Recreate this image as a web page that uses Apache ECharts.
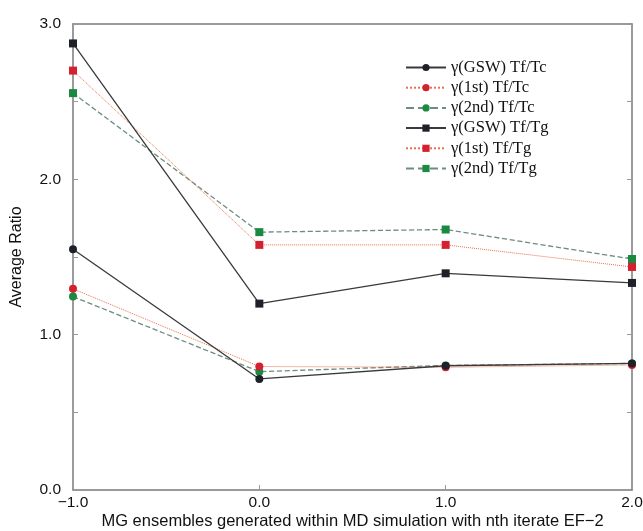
<!DOCTYPE html>
<html>
<head>
<meta charset="utf-8">
<script src="https://cdn.jsdelivr.net/npm/echarts@6/dist/echarts.min.js"></script>
<style>html,body{margin:0;padding:0;background:#fff;}#c{width:643px;height:531px;}</style>
</head>
<body>
<div id="c"></div>
<script>
const xValues = [-1, 0, 1, 2];
const gswTc = [1.55, 0.715, 0.80, 0.815];
const firstTc = [1.295, 0.795, 0.79, 0.805];
const secondTc = [1.245, 0.762, 0.802, 0.815];
const gswTg = [2.875, 1.20, 1.395, 1.333];
const firstTg = [2.70, 1.578, 1.578, 1.436];
const secondTg = [2.555, 1.66, 1.677, 1.487];
const seriesNames = ['γ(GSW) Tf/Tc', 'γ(1st) Tf/Tc', 'γ(2nd) Tf/Tc', 'γ(GSW) Tf/Tg', 'γ(1st) Tf/Tg', 'γ(2nd) Tf/Tg'];
const xTitle = 'MG ensembles generated within MD simulation with nth iterate EF\u22122';
const yTitle = 'Average Ratio';

const pair = arr => arr.map((v, i) => [xValues[i], v]);
const styles = [
  {line: '#3a3a3a', mark: '#1e2228', type: 'solid', sym: 'circle', w: 1.3},
  {line: '#e8704a', mark: '#d42030', type: 'dotted', sym: 'circle', w: 1},
  {line: '#6c8c84', mark: '#1a8a40', type: 'dashed', sym: 'circle', w: 1.3},
  {line: '#3a3a3a', mark: '#1e2228', type: 'solid', sym: 'rect', w: 1.3},
  {line: '#e8704a', mark: '#d42030', type: 'dotted', sym: 'rect', w: 1},
  {line: '#6c8c84', mark: '#1a8a40', type: 'dashed', sym: 'rect', w: 1.3}
];
const datasets = [gswTc, firstTc, secondTc, gswTg, firstTg, secondTg];

const frameLine = {show: true, onZero: false, lineStyle: {color: '#7a7a7a', width: 1.5}};
const chart = echarts.init(document.getElementById('c'), null, {renderer: 'canvas'});
chart.setOption({
  animation: false,
  backgroundColor: '#fff',
  grid: {left: 73, top: 24, right: 11, bottom: 41, containLabel: false, outerBoundsMode: 'none'},
  legend: {
    orient: 'vertical', left: 405, top: 59, padding: 0,
    itemWidth: 40, itemHeight: 9, itemGap: 3.2,
    textStyle: {fontFamily: 'Liberation Serif', fontSize: 16.5, color: '#111', lineHeight: 17},
    data: seriesNames
  },
  xAxis: [{
    type: 'value', min: -1, max: 2, interval: 1,
    name: xTitle, nameLocation: 'middle', nameGap: 23, nameMoveOverlap: false,
    nameTextStyle: {fontFamily: 'Liberation Sans', fontSize: 16.5, color: '#111'},
    axisLine: frameLine,
    axisTick: {inside: true, length: 5, lineStyle: {color: '#999'}},
    axisLabel: {fontFamily: 'Liberation Sans', fontSize: 15.5, color: '#111', margin: 5,
      formatter: v => (v < 0 ? '\u2212' + Math.abs(v).toFixed(1) : v.toFixed(1))},
    splitLine: {show: false}
  }, {
    type: 'value', min: -1, max: 2, interval: 1, position: 'top',
    axisLine: frameLine,
    axisTick: {show: false}, axisLabel: {show: false}, splitLine: {show: false}
  }],
  yAxis: [{
    type: 'value', min: 0, max: 3, interval: 0.5,
    name: yTitle, nameLocation: 'middle', nameGap: 48, nameMoveOverlap: false,
    nameTextStyle: {fontFamily: 'Liberation Sans', fontSize: 16, color: '#111'},
    axisLine: frameLine,
    axisTick: {inside: true, length: 5, lineStyle: {color: '#999'}},
    axisLabel: {fontFamily: 'Liberation Sans', fontSize: 15.5, color: '#111', margin: 12,
      padding: [0, 0, 6, 0],
      formatter: v => (Math.abs(v - Math.round(v)) < 1e-9 ? v.toFixed(1) : '')},
    splitLine: {show: false}
  }, {
    type: 'value', min: 0, max: 3, interval: 0.5, position: 'right',
    axisLine: frameLine,
    axisTick: {inside: true, length: 5, lineStyle: {color: '#999'}},
    axisLabel: {show: false}, splitLine: {show: false}
  }],
  series: datasets.map((d, i) => ({
    name: seriesNames[i], type: 'line', data: pair(d),
    symbol: styles[i].sym, symbolSize: 8,
    lineStyle: {color: styles[i].line, type: styles[i].type, width: styles[i].w},
    itemStyle: {color: styles[i].mark, borderWidth: 0},
    z: 10 - i % 3
  }))
});
</script>
</body>
</html>
